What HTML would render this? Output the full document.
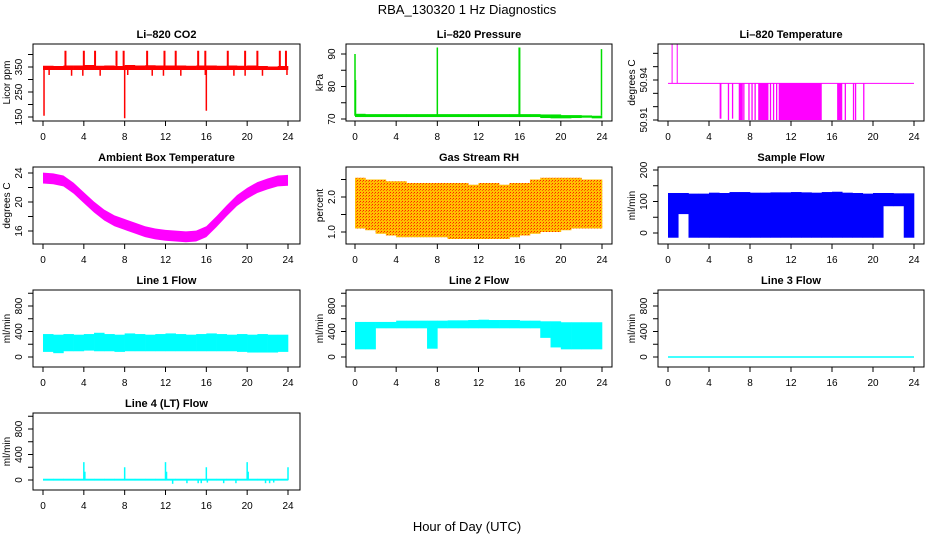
<!DOCTYPE html>
<html><head><meta charset="utf-8"><style>
body{margin:0;background:#fff}
svg{display:block;font-family:"Liberation Sans",Arial,sans-serif}
</style></head><body>
<svg id="c" width="936" height="540" xmlns="http://www.w3.org/2000/svg">
<defs>
<pattern id="rhpat" width="3" height="3" patternUnits="userSpaceOnUse">
<rect width="3" height="3" fill="#ffc000"/><rect width="1" height="1" fill="#ff2000"/><rect x="2" y="1" width="1" height="1" fill="#ff6000"/>
</pattern>
</defs>
<text x="467" y="14" font-size="13" text-anchor="middle">RBA_130320  1 Hz Diagnostics</text>
<text x="467" y="531" font-size="13" text-anchor="middle">Hour of Day (UTC)</text>
</svg>
<script>
// ---- data ----
const hourBins = [0,1,2,3,4,5,6,7,8,9,10,11,12,13,14,15,16,17,18,19,20,21,22,23];
const hourPts = [0,1,2,3,4,5,6,7,8,9,10,11,12,13,14,15,16,17,18,19,20,21,22,23,24];
const xTicks = [0,4,8,12,16,20,24];

// CO2
const co2Lo = [338,338,338,338,338,338,338,338,338,338,338,338,338,338,338,338,338,338,338,338,338,338,338,338];
const co2Hi = [355,354,356,356,358,355,356,354,358,356,357,356,356,356,355,356,356,355,356,355,356,354,352,354];
const co2UpT = [2.2,4.0,5.1,7.2,7.9,10.2,11.9,13.0,15.2,15.9,18.1,19.8,21.0,23.2,23.8];
const co2UpV = [415,415,415,415,415,415,415,415,415,415,415,415,415,415,415];
const co2DnT = [0.1,0.6,2.8,3.9,5.6,8.0,8.3,10.7,11.8,13.5,15.9,16.0,18.7,19.8,21.5,23.9];
const co2DnV = [155,318,315,315,315,145,318,315,315,315,318,175,315,315,315,318];

// Pressure
const prLo = [70.6,70.6,70.6,70.6,70.6,70.6,70.6,70.6,70.6,70.6,70.6,70.6,70.6,70.6,70.6,70.6,70.6,70.6,70.3,70.2,70.2,70.3,70.4,70.2];
const prHi = [71.6,71.5,71.5,71.5,71.5,71.5,71.5,71.5,71.5,71.5,71.5,71.5,71.5,71.5,71.5,71.5,71.5,71.5,71.4,71.4,71.2,71.2,71.1,71.0];
const prSpikeT = [0.0,0.05,8.0,16.0,15.95,23.95];
const prSpikeV = [90,82,92,92,92,91.5];

// Li-820 temperature
const tBase = 50.9375;
const tUpT = [0.4,0.9];
const tUpV = [50.995,50.995];
const tDnT = [5.1,5.15,5.9,6.3,7.4,7.9,8.2,8.5,9.2,10.0,10.3,10.6,16.7,17.3,18.1,18.3,19.1];
const tDnV = [50.911,50.911,50.91,50.911,50.91,50.91,50.91,50.91,50.91,50.91,50.91,50.91,50.91,50.91,50.91,50.91,50.91];
const tBlockStart = [6.9,8.8,10.8,16.5];
const tBlockEnd = [7.3,9.8,15.0,17.0];
const tBlockV = [50.91,50.91,50.91,50.91];

// Ambient temperature
const ambMid = [23.3,23.2,22.9,21.9,20.6,19.3,18.2,17.4,16.9,16.4,15.9,15.6,15.4,15.3,15.2,15.3,15.9,17.3,18.8,20.2,21.2,22.0,22.5,22.9,23.0];
const ambHalf = [0.75,0.75,0.75,0.75,0.75,0.75,0.75,0.75,0.75,0.75,0.75,0.75,0.75,0.75,0.75,0.75,0.75,0.75,0.75,0.75,0.75,0.75,0.75,0.75,0.75];

// Gas stream RH
const rhHi = [2.55,2.5,2.5,2.45,2.45,2.4,2.4,2.4,2.4,2.4,2.4,2.35,2.4,2.4,2.35,2.4,2.4,2.5,2.55,2.55,2.55,2.55,2.5,2.5];
const rhLo = [1.1,1.05,0.95,0.9,0.85,0.85,0.85,0.85,0.85,0.8,0.8,0.8,0.8,0.8,0.8,0.85,0.9,0.95,1.0,1.0,1.05,1.1,1.1,1.1];

// Sample flow
const sfHi = [127,127,125,125,128,127,130,130,128,128,129,129,130,129,128,130,131,128,127,125,127,127,126,126];
const sfLo = [-15,60,-15,-15,-15,-15,-15,-15,-15,-15,-15,-15,-15,-15,-15,-15,-15,-15,-15,-15,-15,85,85,-15];

// Line flows
const l1Hi = [360,350,360,350,360,380,360,350,370,360,350,360,370,360,350,360,370,360,350,360,350,360,350,350];
const l1Lo = [80,60,90,90,100,90,90,80,90,90,90,90,90,90,90,90,90,90,90,80,70,70,70,80];
const l2Hi = [550,550,550,550,570,570,570,570,570,575,575,580,585,580,580,580,570,570,560,560,545,545,545,545];
const l2Lo = [120,120,450,450,450,450,450,130,450,450,450,450,450,450,450,450,450,450,300,150,120,120,120,120];
const l3Val = [0,0,0,0,0,0,0,0,0,0,0,0,0,0,0,0,0,0,0,0,0,0,0,0,0];
const l4Lo = [-10,-10,-10,-10,-10,-10,-10,-10,-10,-10,-10,-10,-10,-10,-10,-10,-10,-10,-10,-10,-10,-10,-10,-10];
const l4Hi = [20,20,20,20,20,20,20,20,20,20,20,20,20,20,20,20,20,20,20,20,20,20,20,20];
const l4SpikeT = [4.0,4.1,8.0,12.0,12.1,16.0,20.0,20.1,24.0,12.7,14.1,15.2,15.5,16.1,17.7,18.9,21.8,22.2,22.6];
const l4SpikeV = [280,130,200,280,130,200,280,130,200,-60,-50,-50,-50,-40,-50,-50,-50,-50,-40];

// ---- drawing ----
const svg = document.getElementById('c');
const NS = 'http://www.w3.org/2000/svg';
function mk(tag, attrs, parent){ const e=document.createElementNS(NS,tag); for(const k in attrs) e.setAttribute(k,attrs[k]); (parent||svg).appendChild(e); return e; }

const cols = [{l:33,r:300,x0:43,x24:288},{l:346,r:612,x0:355,x24:602},{l:658,r:924,x0:668,x24:914}];
const rows = [44,167,290,413];
const H = 77;

function panel(name, title, ytitle, col, row, v0, p0, v1, p1, yticks, ylabels){
  const c = cols[col], top = rows[row];
  const g = mk('g',{});
  
  
  const xp = h => c.x0 + (h/24)*(c.x24-c.x0);
  const yp = v => p0 + (v-v0)*(p1-p0)/(v1-v0);
  const clip = mk('clipPath',{id:'clip-'+name}, g);
  mk('rect',{x:c.l,y:top,width:c.r-c.l,height:H},clip);
  const plot = mk('g',{'clip-path':'url(#clip-'+name+')'}, g);
  
  
  const fr = mk('rect',{x:c.l,y:top,width:c.r-c.l,height:H,fill:'none',stroke:'#000','stroke-width':1}, g);
  
  
  const t = mk('text',{x:(c.l+c.r)/2,y:top-6,'font-size':11,'font-weight':'bold','text-anchor':'middle'}, g);
  t.textContent = title;
  
  
  const bot = top+H;
  mk('line',{x1:xp(0),x2:xp(24),y1:bot,y2:bot,stroke:'#000'}, g);
  xTicks.forEach(h=>{
    mk('line',{x1:xp(h),x2:xp(h),y1:bot,y2:bot+5,stroke:'#000'}, g);
    const tl = mk('text',{x:xp(h),y:bot+19,'font-size':10,'text-anchor':'middle'}, g);
    tl.textContent = h;
    
    
  });
  const ya = yticks.map(yp);
  mk('line',{x1:c.l,x2:c.l,y1:Math.min(...ya),y2:Math.max(...ya),stroke:'#000'}, g);
  yticks.forEach(v=>{ mk('line',{x1:c.l-5,x2:c.l,y1:yp(v),y2:yp(v),stroke:'#000'}, g); });
  ylabels.forEach(v=>{
    const y = yp(parseFloat(v));
    const tl = mk('text',{x:0,y:0,'font-size':10,'text-anchor':'middle',transform:`translate(${c.l-11},${y}) rotate(-90)`}, g);
    tl.textContent = v;
    
    
  });
  const yt = mk('text',{x:0,y:0,'font-size':10,'text-anchor':'middle',transform:`translate(${c.l-23},${top+H/2}) rotate(-90)`}, g);
  yt.textContent = ytitle;
  
  
  return {plot, xp, yp};
}
function bands(p, lo, hi, fill){
  hourBins.forEach((h,i)=>{
    const y1=p.yp(hi[i]), y2=p.yp(lo[i]);
    const r = mk('rect',{x:p.xp(h),y:Math.min(y1,y2),width:p.xp(h+1)-p.xp(h)+0.3,height:Math.abs(y2-y1),fill:fill}, p.plot);
    
    
  });
}
function spikes(p, ts, vs, base, color, w){
  ts.forEach((t,i)=>{
    const l = mk('line',{x1:p.xp(t),x2:p.xp(t),y1:p.yp(base),y2:p.yp(vs[i]),stroke:color,'stroke-width':w||1.5}, p.plot);
    
    
  });
}

let p = panel('co2-panel','Li\u2013820 CO2','Licor ppm',0,0,150,117,350,67,[150,200,250,300,350,400],['150','250','350']);
bands(p, co2Lo, co2Hi, '#ff0000');
spikes(p, co2UpT, co2UpV, 345, '#ff0000', 2);
spikes(p, co2DnT, co2DnV, 345, '#ff0000', 1.5);

p = panel('pressure-panel','Li\u2013820 Pressure','kPa',1,0,70,119,90,54,[70,75,80,85,90],['70','80','90']);
bands(p, prLo, prHi, '#00e000');
spikes(p, prSpikeT, prSpikeV, 71, '#00dd00', 1.5);

p = panel('li820-temp-panel','Li\u2013820 Temperature','degrees C',2,0,50.91,120,50.94,80,[50.91,50.92,50.93,50.94,50.95,50.96],['50.91','50.94']);
mk('line',{x1:p.xp(0),x2:p.xp(24),y1:p.yp(tBase),y2:p.yp(tBase),stroke:'#ff00ff','stroke-width':1}, p.plot);
spikes(p, tUpT, tUpV, tBase, '#ff00ff', 1);
spikes(p, tDnT, tDnV, tBase, '#ff00ff', 1.3);
tBlockStart.forEach((s,i)=>{
  const r = mk('rect',{x:p.xp(s),y:p.yp(tBase),width:p.xp(tBlockEnd[i])-p.xp(s),height:p.yp(tBlockV[i])-p.yp(tBase),fill:'#ff00ff'}, p.plot);
  
  
});

p = panel('ambient-temp-panel','Ambient Box Temperature','degrees C',0,1,16,231,24,173,[16,18,20,22,24],['16','20','24']);
{
  const up = hourPts.map((h,i)=>`${p.xp(h)},${p.yp(ambMid[i]+ambHalf[i])}`);
  const dn = hourPts.map((h,i)=>`${p.xp(h)},${p.yp(ambMid[i]-ambHalf[i])}`).reverse();
  const pg = mk('polygon',{points:up.concat(dn).join(' '),fill:'#ff00ff'}, p.plot);
  
  
}

p = panel('rh-panel','Gas Stream RH','percent',1,1,1.0,232,2.0,197,[1.0,1.5,2.0,2.5],['1.0','2.0']);
bands(p, rhLo, rhHi, 'url(#rhpat)');

p = panel('sample-flow-panel','Sample Flow','ml/min',2,1,0,233,200,170,[0,50,100,150,200],['0','100','200']);
bands(p, sfLo, sfHi, '#0000ff');

const lt = [0,200,400,600,800,1000], ll = ['0','400','800'];
p = panel('line1-flow-panel','Line 1 Flow','ml/min',0,2,0,357,800,306,lt,ll);
bands(p, l1Lo, l1Hi, '#00ffff');
p = panel('line2-flow-panel','Line 2 Flow','ml/min',1,2,0,357,800,306,lt,ll);
bands(p, l2Lo, l2Hi, '#00ffff');
p = panel('line3-flow-panel','Line 3 Flow','ml/min',2,2,0,357,800,306,lt,ll);
{
  const pl = mk('polyline',{points:hourPts.map((h,i)=>`${p.xp(h)},${p.yp(l3Val[i])}`).join(' '),fill:'none',stroke:'#00ffff','stroke-width':1.5}, p.plot);
  
  
}
p = panel('line4-flow-panel','Line 4 (LT) Flow','ml/min',0,3,0,480,800,429,lt,ll);
bands(p, l4Lo, l4Hi, '#00ffff');
spikes(p, l4SpikeT, l4SpikeV, 0, '#00ffff', 1.5);
</script>
</body></html>
